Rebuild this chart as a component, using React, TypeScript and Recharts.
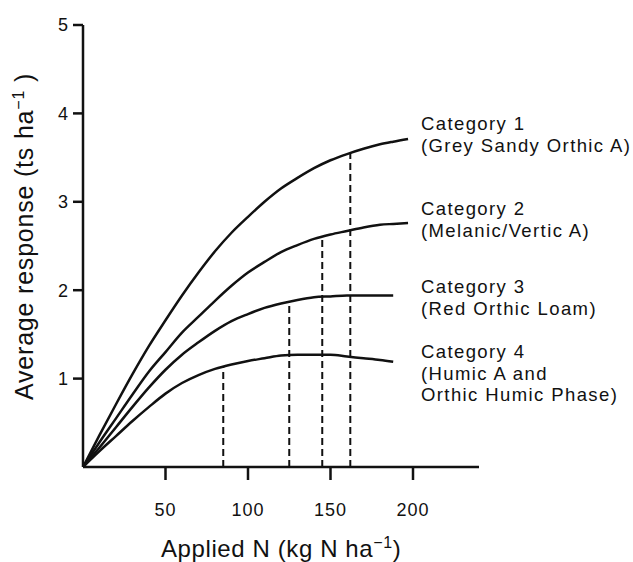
import { Line, LineChart, ReferenceLine, XAxis, YAxis } from 'recharts';

// applied nitrogen (kg N/ha) at which each curve was read
const nApplied = [0, 10, 20, 30, 40, 50, 60, 70, 80, 90, 100, 110, 120, 130, 140, 150, 160, 170, 180, 188, 197];

// average response (t/ha), one array per soil category
const category1 = [0, 0.36, 0.71, 1.05, 1.37, 1.66, 1.94, 2.2, 2.44, 2.65, 2.83, 3.0, 3.15, 3.27, 3.38, 3.47, 3.54, 3.6, 3.65, 3.68, 3.71];
const category2 = [0, 0.28, 0.55, 0.82, 1.08, 1.3, 1.52, 1.7, 1.88, 2.05, 2.2, 2.32, 2.43, 2.51, 2.58, 2.63, 2.67, 2.71, 2.74, 2.75, 2.76];
const category3 = [0, 0.22, 0.45, 0.68, 0.9, 1.1, 1.27, 1.41, 1.54, 1.65, 1.73, 1.8, 1.85, 1.89, 1.92, 1.93, 1.94, 1.94, 1.94, 1.94, null];
const category4 = [0, 0.18, 0.35, 0.52, 0.68, 0.83, 0.95, 1.04, 1.11, 1.16, 1.2, 1.23, 1.26, 1.27, 1.27, 1.27, 1.25, 1.23, 1.21, 1.19, null];

// dashed drop lines (optimum N for each category)
const dropN = [85, 125, 145, 162];
const dropResponse = [1.13, 1.86, 2.6, 3.55];

const xTicks = [50, 100, 150, 200];
const yTicks = [1, 2, 3, 4, 5];

const categoryNames = ['Category 1', 'Category 2', 'Category 3', 'Category 4'];
const categorySoils = [
    ['(Grey Sandy Orthic A)'],
    ['(Melanic/Vertic A)'],
    ['(Red Orthic Loam)'],
    ['(Humic A and', 'Orthic Humic Phase)'],
];

const rows = nApplied.map((n, i) => ({
    n,
    c1: category1[i],
    c2: category2[i],
    c3: category3[i],
    c4: category4[i],
}));

const FONT = '"Liberation Sans", Arial, sans-serif';
const INK = '#111';
const labelBaselines = [130, 215, 293, 358];

export default function App() {
    return (
        <div style={{ position: 'absolute', left: 0, top: 0, width: 633, height: 562, background: '#fff', fontFamily: FONT }}>
            <LineChart
                width={633}
                height={562}
                data={rows}
                margin={{ top: 25, right: 154, left: 82, bottom: 94 }}
                style={{ fontFamily: FONT }}
            >
                <XAxis
                    dataKey="n"
                    type="number"
                    domain={[0, 240]}
                    ticks={xTicks}
                    height={1}
                    tickSize={13}
                    tickMargin={23}
                    stroke={INK}
                    strokeWidth={2.5}
                    tick={{ fill: INK, fontSize: 18, letterSpacing: 1 }}
                />
                <YAxis
                    type="number"
                    domain={[0, 5]}
                    ticks={yTicks}
                    width={1}
                    tickSize={10}
                    tickMargin={5}
                    stroke={INK}
                    strokeWidth={2.5}
                    tick={{ fill: INK, fontSize: 18 }}
                />
                {dropN.map((n, i) => (
                    <ReferenceLine
                        key={n}
                        segment={[
                            { x: n, y: 0 },
                            { x: n, y: dropResponse[i] },
                        ]}
                        stroke={INK}
                        strokeWidth={2}
                        strokeDasharray="7 4"
                    />
                ))}
                {['c1', 'c2', 'c3', 'c4'].map((k) => (
                    <Line
                        key={k}
                        type="monotone"
                        dataKey={k}
                        stroke={INK}
                        strokeWidth={2.5}
                        dot={false}
                        activeDot={false}
                        isAnimationActive={false}
                    />
                ))}
            </LineChart>
            <svg
                width={633}
                height={562}
                style={{ position: 'absolute', left: 0, top: 0, pointerEvents: 'none' }}
                fontFamily={FONT}
                fill={INK}
            >
                <text x={33} y={400} transform="rotate(-90 33 400)" fontSize={25} letterSpacing={0.8}>
                    Average response (ts ha
                    <tspan fontSize={16} dy={-9}>−1</tspan>
                    <tspan dy={9}> )</tspan>
                </text>
                <text x={161} y={557} fontSize={24} letterSpacing={0.6}>
                    Applied N (kg N ha
                    <tspan fontSize={16} dy={-9}>−1</tspan>
                    <tspan dy={9}>)</tspan>
                </text>
                {categoryNames.map((name, i) => (
                    <text key={name} x={421} y={labelBaselines[i]} fontSize={18.5} letterSpacing={1.4}>
                        <tspan x={421}>{name}</tspan>
                        {categorySoils[i].map((line) => (
                            <tspan key={line} x={421} dy={21.5}>
                                {line}
                            </tspan>
                        ))}
                    </text>
                ))}
            </svg>
        </div>
    );
}
